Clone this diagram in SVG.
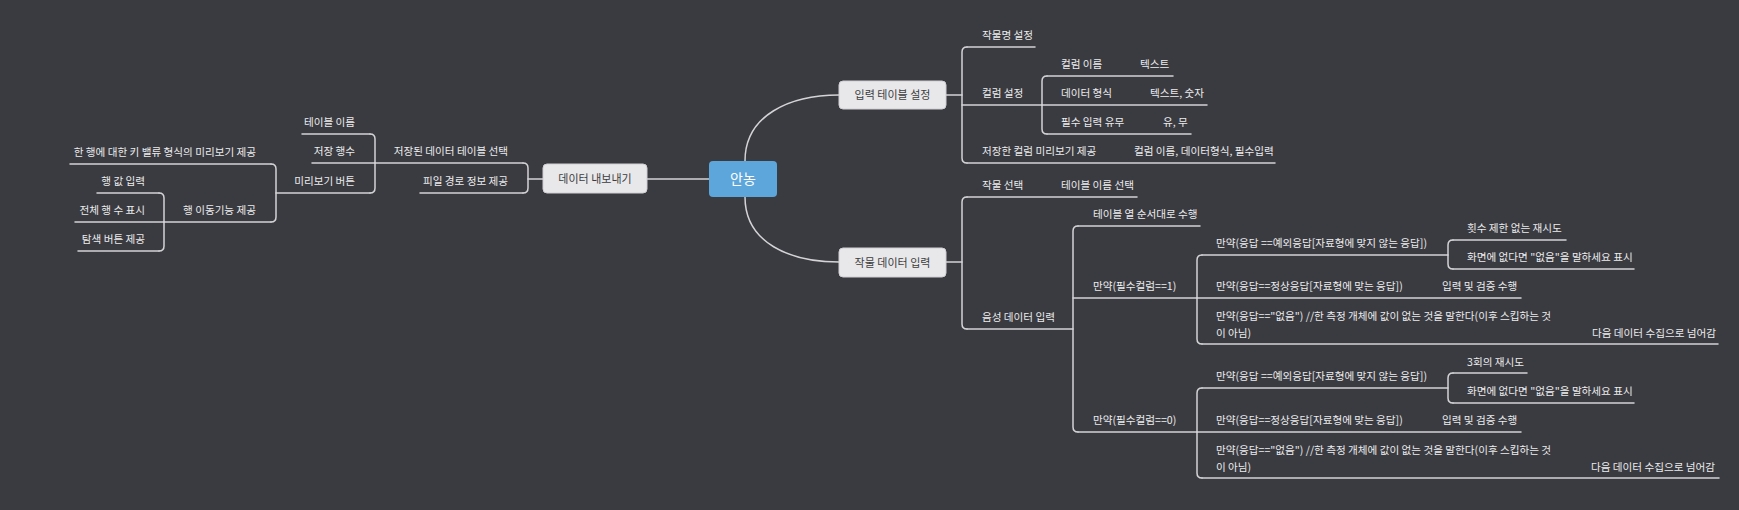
<svg xmlns="http://www.w3.org/2000/svg" width="1739" height="510" viewBox="0 0 1739 510">
<style>
.bg{fill:#3a3b40}
.ln{fill:none;stroke:#d4d4d6;stroke-width:1.5;stroke-linecap:round}
.t{font-family:"Noto Sans CJK KR","Noto Sans",sans-serif;font-size:10.6px;fill:#ececee}
.e{text-anchor:end}
.nb{fill:#e8e8ea;stroke:#d0d0d4;stroke-width:1}
.nt{font-family:"Noto Sans CJK KR","Noto Sans",sans-serif;font-size:11px;fill:#3c3c40;text-anchor:middle}
.ct{font-family:"Noto Sans CJK KR","Noto Sans",sans-serif;font-size:14px;fill:#ffffff;text-anchor:middle}
</style>
<rect class="bg" x="0" y="0" width="1739" height="510"/>
<g id="connectors" class="ln">
<path d="M745,161 C745,115 790,95 839,95"/>
<path d="M745,197 C745,243 790,262 839,262"/>
<path d="M647,179 L709,179"/>
<path d="M946,95 L962,95"/>
<path d="M946,262 L962,262"/>
<path d="M543,179 L528,179"/>
<path d="M967,47 Q962,47 962,52 L962,158 Q962,163 967,163"/>
<path d="M1047,76 Q1042,76 1042,81 L1042,129 Q1042,134 1047,134"/>
<path d="M967,197 Q962,197 962,202 L962,324 Q962,329 967,329"/>
<path d="M1078,226 Q1073,226 1073,231 L1073,427 Q1073,432 1078,432"/>
<path d="M1202,255 Q1197,255 1197,260 L1197,339 Q1197,344 1202,344"/>
<path d="M1453,240 Q1448,240 1448,245 L1448,264 Q1448,269 1453,269"/>
<path d="M1202,388 Q1197,388 1197,393 L1197,473 Q1197,478 1202,478"/>
<path d="M1453,373 Q1448,373 1448,378 L1448,398 Q1448,403 1453,403"/>
<path d="M523,163 Q528,163 528,168 L528,188 Q528,193 523,193"/>
<path d="M370,134 Q375,134 375,139 L375,188 Q375,193 370,193"/>
<path d="M271,164 Q276,164 276,169 L276,217 Q276,222 271,222"/>
<path d="M159,193 Q164,193 164,198 L164,246 Q164,251 159,251"/>
</g>
<g id="n-center"><rect x="709" y="161" width="68" height="36" rx="4" fill="#5da6db"/><text class="ct" x="743" y="184">안농</text></g>
<g id="n-input-table"><rect class="nb" x="839" y="81" width="107" height="28" rx="4"/><text class="nt" x="892.5" y="99">입력 테이블 설정</text></g>
<g id="n-crop-data"><rect class="nb" x="839" y="248" width="107" height="29" rx="4"/><text class="nt" x="892.5" y="266.5">작물 데이터 입력</text></g>
<g id="n-export"><rect class="nb" x="543" y="164" width="104" height="29" rx="4"/><text class="nt" x="595" y="182.5">데이터 내보내기</text></g>

<g id="n-cropname"><path class="ln" d="M967,47 L1035,47"/><text class="t" x="982" y="39">작물명 설정</text></g>
<g id="n-colset"><path class="ln" d="M962,105 L1042,105"/><text class="t" x="982" y="97">컬럼 설정</text></g>
<g id="n-colname"><path class="ln" d="M1047,76 L1173,76"/><text class="t" x="1061" y="68">컬럼 이름</text><text class="t" x="1140" y="68">텍스트</text></g>
<g id="n-datatype"><path class="ln" d="M1042,105 L1207,105"/><text class="t" x="1061" y="97">데이터 형식</text><text class="t" x="1150" y="97">텍스트, 숫자</text></g>
<g id="n-required"><path class="ln" d="M1047,134 L1191,134"/><text class="t" x="1061" y="126">필수 입력 유무</text><text class="t" x="1163" y="126">유, 무</text></g>
<g id="n-preview-col"><path class="ln" d="M967,163 L1275,163"/><text class="t" x="982" y="155">저장한 컬럼 미리보기 제공</text><text class="t" x="1134" y="155">컬럼 이름, 데이터형식, 필수입력</text></g>

<g id="n-cropsel"><path class="ln" d="M967,197 L1137,197"/><text class="t" x="982" y="189">작물 선택</text><text class="t" x="1061" y="189">테이블 이름 선택</text></g>
<g id="n-voice"><path class="ln" d="M967,329 L1073,329"/><text class="t" x="982" y="321">음성 데이터 입력</text></g>
<g id="n-order"><path class="ln" d="M1078,226 L1200,226"/><text class="t" x="1093" y="218">테이블 열 순서대로 수행</text></g>
<g id="n-req1"><path class="ln" d="M1073,298 L1197,298"/><text class="t" x="1093" y="290">만약(필수컬럼==1)</text></g>
<g id="n-req0"><path class="ln" d="M1078,432 L1197,432"/><text class="t" x="1093" y="424">만약(필수컬럼==0)</text></g>

<g id="n-r1-exc"><path class="ln" d="M1202,255 L1448,255"/><text class="t" x="1216" y="247">만약(응답 ==예외응답[자료형에 맞지 않는 응답])</text></g>
<g id="n-r1-retry"><path class="ln" d="M1453,240 L1566,240"/><text class="t" x="1467" y="232">횟수 제한 없는 재시도</text></g>
<g id="n-r1-show"><path class="ln" d="M1453,269 L1634,269"/><text class="t" x="1467" y="261">화면에 없다면 "없음"을 말하세요 표시</text></g>
<g id="n-r1-ok"><path class="ln" d="M1197,298 L1521,298"/><text class="t" x="1216" y="290">만약(응답==정상응답[자료형에 맞는 응답])</text><text class="t" x="1442" y="290">입력 및 검증 수행</text></g>
<g id="n-r1-none"><path class="ln" d="M1202,344 L1718,344"/><text class="t" x="1216" y="320">만약(응답=="없음") //한 측정 개체에 값이 없는 것을 말한다(이후 스킵하는 것</text><text class="t" x="1216" y="337">이 아님)</text><text class="t" x="1592" y="337">다음 데이터 수집으로 넘어감</text></g>

<g id="n-r0-exc"><path class="ln" d="M1202,388 L1448,388"/><text class="t" x="1216" y="380">만약(응답 ==예외응답[자료형에 맞지 않는 응답])</text></g>
<g id="n-r0-retry"><path class="ln" d="M1453,373 L1527,373"/><text class="t" x="1467" y="366">3회의 재시도</text></g>
<g id="n-r0-show"><path class="ln" d="M1453,403 L1634,403"/><text class="t" x="1467" y="395">화면에 없다면 "없음"을 말하세요 표시</text></g>
<g id="n-r0-ok"><path class="ln" d="M1197,432 L1521,432"/><text class="t" x="1216" y="424">만약(응답==정상응답[자료형에 맞는 응답])</text><text class="t" x="1442" y="424">입력 및 검증 수행</text></g>
<g id="n-r0-none"><path class="ln" d="M1202,478 L1719,478"/><text class="t" x="1216" y="454">만약(응답=="없음") //한 측정 개체에 값이 없는 것을 말한다(이후 스킵하는 것</text><text class="t" x="1216" y="471">이 아님)</text><text class="t" x="1591" y="471">다음 데이터 수집으로 넘어감</text></g>

<g id="n-saved"><path class="ln" d="M523,163 L375,163"/><text class="t e" x="508" y="155">저장된 데이터 테이블 선택</text></g>
<g id="n-path"><path class="ln" d="M523,193 L420,193"/><text class="t e" x="508" y="185">피일 경로 정보 제공</text></g>
<g id="n-tblname"><path class="ln" d="M370,134 L302,134"/><text class="t e" x="355" y="126">테이블 이름</text></g>
<g id="n-rows"><path class="ln" d="M375,163 L312,163"/><text class="t e" x="355" y="155">저장 행수</text></g>
<g id="n-previewbtn"><path class="ln" d="M370,193 L276,193"/><text class="t e" x="355" y="185">미리보기 버튼</text></g>
<g id="n-kv"><path class="ln" d="M271,164 L70,164"/><text class="t e" x="256" y="156">한 행에 대한 키 밸류 형식의 미리보기 제공</text></g>
<g id="n-rowmove"><path class="ln" d="M271,222 L164,222"/><text class="t e" x="256" y="214">행 이동기능 제공</text></g>
<g id="n-rowval"><path class="ln" d="M159,193 L97,193"/><text class="t e" x="145" y="185">행 값 입력</text></g>
<g id="n-rowcount"><path class="ln" d="M164,222 L75,222"/><text class="t e" x="145" y="214">전체 행 수 표시</text></g>
<g id="n-search"><path class="ln" d="M159,251 L78,251"/><text class="t e" x="145" y="243">탐색 버튼 제공</text></g>
</svg>
